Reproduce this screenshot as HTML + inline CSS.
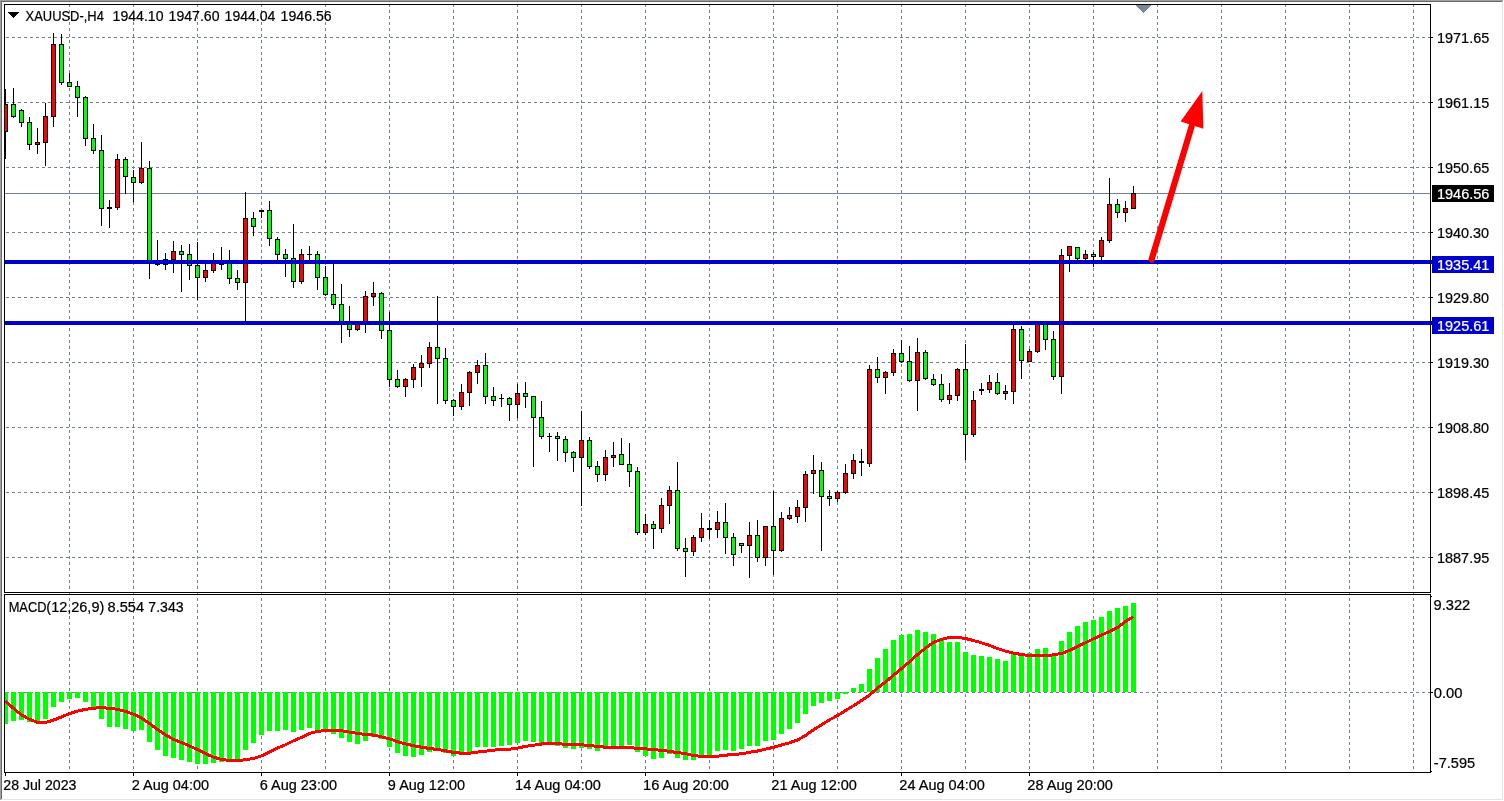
<!DOCTYPE html>
<html lang="en"><head><meta charset="utf-8"><title>XAUUSD-,H4</title>
<style>
html,body{margin:0;padding:0;background:#fff;width:1504px;height:801px;overflow:hidden}
svg{display:block;position:absolute;left:0;top:0}
text{font-family:"Liberation Sans",Arial,sans-serif;font-size:14px;fill:#000;stroke:#000;stroke-width:0.22px}
.w{fill:#fff;stroke:#fff}
</style></head><body>
<svg width="1504" height="801" viewBox="0 0 1504 801" shape-rendering="crispEdges">
<defs><clipPath id="cp"><rect x="5" y="5" width="1425" height="767"/></clipPath></defs>
<rect x="0" y="0" width="1504" height="801" fill="#fff"/>
<rect x="0" y="0" width="1503" height="1" fill="#a0a0a0"/><rect x="0" y="0" width="1" height="800" fill="#a0a0a0"/><rect x="1" y="1" width="1501" height="1" fill="#696969"/><rect x="1" y="1" width="1" height="798" fill="#696969"/><rect x="1" y="799" width="1502" height="1" fill="#e3e3e3"/><rect x="1502" y="1" width="1" height="799" fill="#e3e3e3"/>
<g stroke="#708090" stroke-width="1" stroke-dasharray="3 3" fill="none">
<line x1="69.5" y1="4" x2="69.5" y2="772"/><line x1="133.5" y1="4" x2="133.5" y2="772"/><line x1="197.5" y1="4" x2="197.5" y2="772"/><line x1="261.5" y1="4" x2="261.5" y2="772"/><line x1="325.5" y1="4" x2="325.5" y2="772"/><line x1="389.5" y1="4" x2="389.5" y2="772"/><line x1="453.5" y1="4" x2="453.5" y2="772"/><line x1="517.5" y1="4" x2="517.5" y2="772"/><line x1="581.5" y1="4" x2="581.5" y2="772"/><line x1="645.5" y1="4" x2="645.5" y2="772"/><line x1="709.5" y1="4" x2="709.5" y2="772"/><line x1="773.5" y1="4" x2="773.5" y2="772"/><line x1="837.5" y1="4" x2="837.5" y2="772"/><line x1="901.5" y1="4" x2="901.5" y2="772"/><line x1="965.5" y1="4" x2="965.5" y2="772"/><line x1="1029.5" y1="4" x2="1029.5" y2="772"/><line x1="1093.5" y1="4" x2="1093.5" y2="772"/><line x1="1157.5" y1="4" x2="1157.5" y2="772"/><line x1="1221.5" y1="4" x2="1221.5" y2="772"/><line x1="1285.5" y1="4" x2="1285.5" y2="772"/><line x1="1349.5" y1="4" x2="1349.5" y2="772"/><line x1="1413.5" y1="4" x2="1413.5" y2="772"/>
<line x1="6" y1="37.5" x2="1430" y2="37.5"/><line x1="6" y1="102.5" x2="1430" y2="102.5"/><line x1="6" y1="167.5" x2="1430" y2="167.5"/><line x1="6" y1="232.5" x2="1430" y2="232.5"/><line x1="6" y1="297.5" x2="1430" y2="297.5"/><line x1="6" y1="362.5" x2="1430" y2="362.5"/><line x1="6" y1="427.5" x2="1430" y2="427.5"/><line x1="6" y1="492.5" x2="1430" y2="492.5"/><line x1="6" y1="557.5" x2="1430" y2="557.5"/><line x1="6" y1="692.5" x2="1430" y2="692.5"/>
</g>
<rect x="5" y="193" width="1425" height="1" fill="#708090"/>
<g clip-path="url(#cp)">
<rect x="5" y="89" width="1" height="70" fill="#000"/><rect x="3" y="104" width="5" height="28" fill="#000"/><rect x="4" y="105" width="3" height="26" fill="#f00"/>
<rect x="13" y="88" width="1" height="30" fill="#000"/><rect x="11" y="104" width="5" height="13" fill="#000"/><rect x="12" y="105" width="3" height="11" fill="#0f0"/>
<rect x="21" y="109" width="1" height="18" fill="#000"/><rect x="19" y="110" width="5" height="13" fill="#000"/><rect x="20" y="111" width="3" height="11" fill="#0f0"/>
<rect x="29" y="117" width="1" height="33" fill="#000"/><rect x="27" y="122" width="5" height="23" fill="#000"/><rect x="28" y="123" width="3" height="21" fill="#0f0"/>
<rect x="37" y="128" width="1" height="26" fill="#000"/><rect x="35" y="142" width="5" height="3" fill="#000"/><rect x="36" y="143" width="3" height="1" fill="#f00"/>
<rect x="45" y="103" width="1" height="63" fill="#000"/><rect x="43" y="116" width="5" height="27" fill="#000"/><rect x="44" y="117" width="3" height="25" fill="#f00"/>
<rect x="53" y="33" width="1" height="94" fill="#000"/><rect x="51" y="44" width="5" height="73" fill="#000"/><rect x="52" y="45" width="3" height="71" fill="#f00"/>
<rect x="61" y="34" width="1" height="51" fill="#000"/><rect x="59" y="44" width="5" height="39" fill="#000"/><rect x="60" y="45" width="3" height="37" fill="#0f0"/>
<rect x="69" y="73" width="1" height="14" fill="#000"/><rect x="67" y="82" width="5" height="5" fill="#000"/><rect x="68" y="83" width="3" height="3" fill="#0f0"/>
<rect x="77" y="81" width="1" height="36" fill="#000"/><rect x="75" y="86" width="5" height="12" fill="#000"/><rect x="76" y="87" width="3" height="10" fill="#0f0"/>
<rect x="85" y="96" width="1" height="50" fill="#000"/><rect x="83" y="97" width="5" height="42" fill="#000"/><rect x="84" y="98" width="3" height="40" fill="#0f0"/>
<rect x="93" y="124" width="1" height="30" fill="#000"/><rect x="91" y="138" width="5" height="13" fill="#000"/><rect x="92" y="139" width="3" height="11" fill="#0f0"/>
<rect x="101" y="135" width="1" height="91" fill="#000"/><rect x="99" y="150" width="5" height="59" fill="#000"/><rect x="100" y="151" width="3" height="57" fill="#0f0"/>
<rect x="109" y="200" width="1" height="28" fill="#000"/><rect x="107" y="207" width="5" height="2" fill="#000"/>
<rect x="117" y="154" width="1" height="56" fill="#000"/><rect x="115" y="159" width="5" height="49" fill="#000"/><rect x="116" y="160" width="3" height="47" fill="#f00"/>
<rect x="125" y="157" width="1" height="37" fill="#000"/><rect x="123" y="159" width="5" height="18" fill="#000"/><rect x="124" y="160" width="3" height="16" fill="#0f0"/>
<rect x="133" y="170" width="1" height="32" fill="#000"/><rect x="131" y="177" width="5" height="6" fill="#000"/><rect x="132" y="178" width="3" height="4" fill="#0f0"/>
<rect x="141" y="142" width="1" height="42" fill="#000"/><rect x="139" y="168" width="5" height="15" fill="#000"/><rect x="140" y="169" width="3" height="13" fill="#f00"/>
<rect x="149" y="161" width="1" height="118" fill="#000"/><rect x="147" y="168" width="5" height="96" fill="#000"/><rect x="148" y="169" width="3" height="94" fill="#0f0"/>
<rect x="157" y="240" width="1" height="26" fill="#000"/><rect x="155" y="263" width="5" height="2" fill="#000"/>
<rect x="165" y="253" width="1" height="17" fill="#000"/><rect x="163" y="259" width="5" height="6" fill="#000"/><rect x="164" y="260" width="3" height="4" fill="#f00"/>
<rect x="173" y="241" width="1" height="32" fill="#000"/><rect x="171" y="251" width="5" height="9" fill="#000"/><rect x="172" y="252" width="3" height="7" fill="#f00"/>
<rect x="181" y="245" width="1" height="47" fill="#000"/><rect x="179" y="251" width="5" height="4" fill="#000"/><rect x="180" y="252" width="3" height="2" fill="#0f0"/>
<rect x="189" y="244" width="1" height="36" fill="#000"/><rect x="187" y="254" width="5" height="12" fill="#000"/><rect x="188" y="255" width="3" height="10" fill="#0f0"/>
<rect x="197" y="242" width="1" height="58" fill="#000"/><rect x="195" y="265" width="5" height="13" fill="#000"/><rect x="196" y="266" width="3" height="11" fill="#0f0"/>
<rect x="205" y="262" width="1" height="20" fill="#000"/><rect x="203" y="270" width="5" height="8" fill="#000"/><rect x="204" y="271" width="3" height="6" fill="#f00"/>
<rect x="213" y="253" width="1" height="20" fill="#000"/><rect x="211" y="262" width="5" height="9" fill="#000"/><rect x="212" y="263" width="3" height="7" fill="#f00"/>
<rect x="221" y="247" width="1" height="23" fill="#000"/><rect x="219" y="263" width="5" height="2" fill="#000"/>
<rect x="229" y="250" width="1" height="34" fill="#000"/><rect x="227" y="263" width="5" height="16" fill="#000"/><rect x="228" y="264" width="3" height="14" fill="#0f0"/>
<rect x="237" y="270" width="1" height="20" fill="#000"/><rect x="235" y="278" width="5" height="5" fill="#000"/><rect x="236" y="279" width="3" height="3" fill="#0f0"/>
<rect x="245" y="192" width="1" height="130" fill="#000"/><rect x="243" y="218" width="5" height="65" fill="#000"/><rect x="244" y="219" width="3" height="63" fill="#f00"/>
<rect x="253" y="212" width="1" height="24" fill="#000"/><rect x="251" y="218" width="5" height="9" fill="#000"/><rect x="252" y="219" width="3" height="7" fill="#0f0"/>
<rect x="261" y="210" width="1" height="8" fill="#000"/><rect x="259" y="210" width="5" height="2" fill="#000"/>
<rect x="269" y="201" width="1" height="45" fill="#000"/><rect x="267" y="210" width="5" height="29" fill="#000"/><rect x="268" y="211" width="3" height="27" fill="#0f0"/>
<rect x="277" y="237" width="1" height="25" fill="#000"/><rect x="275" y="239" width="5" height="16" fill="#000"/><rect x="276" y="240" width="3" height="14" fill="#0f0"/>
<rect x="285" y="249" width="1" height="28" fill="#000"/><rect x="283" y="254" width="5" height="5" fill="#000"/><rect x="284" y="255" width="3" height="3" fill="#0f0"/>
<rect x="293" y="224" width="1" height="64" fill="#000"/><rect x="291" y="258" width="5" height="24" fill="#000"/><rect x="292" y="259" width="3" height="22" fill="#0f0"/>
<rect x="301" y="249" width="1" height="35" fill="#000"/><rect x="299" y="254" width="5" height="28" fill="#000"/><rect x="300" y="255" width="3" height="26" fill="#f00"/>
<rect x="309" y="246" width="1" height="16" fill="#000"/><rect x="307" y="254" width="5" height="1" fill="#000"/>
<rect x="317" y="251" width="1" height="39" fill="#000"/><rect x="315" y="254" width="5" height="24" fill="#000"/><rect x="316" y="255" width="3" height="22" fill="#0f0"/>
<rect x="325" y="266" width="1" height="30" fill="#000"/><rect x="323" y="277" width="5" height="18" fill="#000"/><rect x="324" y="278" width="3" height="16" fill="#0f0"/>
<rect x="333" y="261" width="1" height="48" fill="#000"/><rect x="331" y="294" width="5" height="11" fill="#000"/><rect x="332" y="295" width="3" height="9" fill="#0f0"/>
<rect x="341" y="284" width="1" height="59" fill="#000"/><rect x="339" y="304" width="5" height="19" fill="#000"/><rect x="340" y="305" width="3" height="17" fill="#0f0"/>
<rect x="349" y="306" width="1" height="31" fill="#000"/><rect x="347" y="322" width="5" height="8" fill="#000"/><rect x="348" y="323" width="3" height="6" fill="#0f0"/>
<rect x="357" y="322" width="1" height="9" fill="#000"/><rect x="355" y="322" width="5" height="8" fill="#000"/><rect x="356" y="323" width="3" height="6" fill="#f00"/>
<rect x="365" y="291" width="1" height="42" fill="#000"/><rect x="363" y="296" width="5" height="27" fill="#000"/><rect x="364" y="297" width="3" height="25" fill="#f00"/>
<rect x="373" y="282" width="1" height="24" fill="#000"/><rect x="371" y="293" width="5" height="4" fill="#000"/><rect x="372" y="294" width="3" height="2" fill="#f00"/>
<rect x="381" y="292" width="1" height="47" fill="#000"/><rect x="379" y="293" width="5" height="38" fill="#000"/><rect x="380" y="294" width="3" height="36" fill="#0f0"/>
<rect x="389" y="312" width="1" height="75" fill="#000"/><rect x="387" y="330" width="5" height="50" fill="#000"/><rect x="388" y="331" width="3" height="48" fill="#0f0"/>
<rect x="397" y="370" width="1" height="18" fill="#000"/><rect x="395" y="379" width="5" height="8" fill="#000"/><rect x="396" y="380" width="3" height="6" fill="#0f0"/>
<rect x="405" y="378" width="1" height="19" fill="#000"/><rect x="403" y="379" width="5" height="8" fill="#000"/><rect x="404" y="380" width="3" height="6" fill="#f00"/>
<rect x="413" y="364" width="1" height="24" fill="#000"/><rect x="411" y="367" width="5" height="13" fill="#000"/><rect x="412" y="368" width="3" height="11" fill="#f00"/>
<rect x="421" y="355" width="1" height="32" fill="#000"/><rect x="419" y="363" width="5" height="5" fill="#000"/><rect x="420" y="364" width="3" height="3" fill="#f00"/>
<rect x="429" y="342" width="1" height="26" fill="#000"/><rect x="427" y="347" width="5" height="17" fill="#000"/><rect x="428" y="348" width="3" height="15" fill="#f00"/>
<rect x="437" y="296" width="1" height="108" fill="#000"/><rect x="435" y="347" width="5" height="12" fill="#000"/><rect x="436" y="348" width="3" height="10" fill="#0f0"/>
<rect x="445" y="348" width="1" height="56" fill="#000"/><rect x="443" y="358" width="5" height="43" fill="#000"/><rect x="444" y="359" width="3" height="41" fill="#0f0"/>
<rect x="453" y="399" width="1" height="17" fill="#000"/><rect x="451" y="400" width="5" height="7" fill="#000"/><rect x="452" y="401" width="3" height="5" fill="#0f0"/>
<rect x="461" y="384" width="1" height="26" fill="#000"/><rect x="459" y="392" width="5" height="15" fill="#000"/><rect x="460" y="393" width="3" height="13" fill="#f00"/>
<rect x="469" y="371" width="1" height="35" fill="#000"/><rect x="467" y="372" width="5" height="21" fill="#000"/><rect x="468" y="373" width="3" height="19" fill="#f00"/>
<rect x="477" y="360" width="1" height="24" fill="#000"/><rect x="475" y="365" width="5" height="8" fill="#000"/><rect x="476" y="366" width="3" height="6" fill="#f00"/>
<rect x="485" y="353" width="1" height="51" fill="#000"/><rect x="483" y="365" width="5" height="32" fill="#000"/><rect x="484" y="366" width="3" height="30" fill="#0f0"/>
<rect x="493" y="387" width="1" height="19" fill="#000"/><rect x="491" y="396" width="5" height="5" fill="#000"/><rect x="492" y="397" width="3" height="3" fill="#0f0"/>
<rect x="501" y="394" width="1" height="13" fill="#000"/><rect x="499" y="398" width="5" height="1" fill="#000"/>
<rect x="509" y="397" width="1" height="24" fill="#000"/><rect x="507" y="398" width="5" height="7" fill="#000"/><rect x="508" y="399" width="3" height="5" fill="#0f0"/>
<rect x="517" y="384" width="1" height="34" fill="#000"/><rect x="515" y="393" width="5" height="12" fill="#000"/><rect x="516" y="394" width="3" height="10" fill="#f00"/>
<rect x="525" y="382" width="1" height="26" fill="#000"/><rect x="523" y="393" width="5" height="4" fill="#000"/><rect x="524" y="394" width="3" height="2" fill="#0f0"/>
<rect x="533" y="396" width="1" height="71" fill="#000"/><rect x="531" y="396" width="5" height="22" fill="#000"/><rect x="532" y="397" width="3" height="20" fill="#0f0"/>
<rect x="541" y="401" width="1" height="38" fill="#000"/><rect x="539" y="417" width="5" height="20" fill="#000"/><rect x="540" y="418" width="3" height="18" fill="#0f0"/>
<rect x="549" y="433" width="1" height="19" fill="#000"/><rect x="547" y="436" width="5" height="1" fill="#000"/>
<rect x="557" y="432" width="1" height="29" fill="#000"/><rect x="555" y="436" width="5" height="3" fill="#000"/><rect x="556" y="437" width="3" height="1" fill="#0f0"/>
<rect x="565" y="436" width="1" height="26" fill="#000"/><rect x="563" y="439" width="5" height="14" fill="#000"/><rect x="564" y="440" width="3" height="12" fill="#0f0"/>
<rect x="573" y="451" width="1" height="21" fill="#000"/><rect x="571" y="452" width="5" height="6" fill="#000"/><rect x="572" y="453" width="3" height="4" fill="#0f0"/>
<rect x="581" y="411" width="1" height="95" fill="#000"/><rect x="579" y="440" width="5" height="18" fill="#000"/><rect x="580" y="441" width="3" height="16" fill="#f00"/>
<rect x="589" y="437" width="1" height="32" fill="#000"/><rect x="587" y="440" width="5" height="27" fill="#000"/><rect x="588" y="441" width="3" height="25" fill="#0f0"/>
<rect x="597" y="461" width="1" height="21" fill="#000"/><rect x="595" y="466" width="5" height="9" fill="#000"/><rect x="596" y="467" width="3" height="7" fill="#0f0"/>
<rect x="605" y="450" width="1" height="31" fill="#000"/><rect x="603" y="457" width="5" height="18" fill="#000"/><rect x="604" y="458" width="3" height="16" fill="#f00"/>
<rect x="613" y="442" width="1" height="25" fill="#000"/><rect x="611" y="455" width="5" height="3" fill="#000"/><rect x="612" y="456" width="3" height="1" fill="#f00"/>
<rect x="621" y="438" width="1" height="27" fill="#000"/><rect x="619" y="454" width="5" height="11" fill="#000"/><rect x="620" y="455" width="3" height="9" fill="#0f0"/>
<rect x="629" y="443" width="1" height="44" fill="#000"/><rect x="627" y="464" width="5" height="8" fill="#000"/><rect x="628" y="465" width="3" height="6" fill="#0f0"/>
<rect x="637" y="467" width="1" height="68" fill="#000"/><rect x="635" y="471" width="5" height="62" fill="#000"/><rect x="636" y="472" width="3" height="60" fill="#0f0"/>
<rect x="645" y="514" width="1" height="21" fill="#000"/><rect x="643" y="524" width="5" height="9" fill="#000"/><rect x="644" y="525" width="3" height="7" fill="#f00"/>
<rect x="653" y="521" width="1" height="28" fill="#000"/><rect x="651" y="524" width="5" height="5" fill="#000"/><rect x="652" y="525" width="3" height="3" fill="#0f0"/>
<rect x="661" y="498" width="1" height="35" fill="#000"/><rect x="659" y="505" width="5" height="24" fill="#000"/><rect x="660" y="506" width="3" height="22" fill="#f00"/>
<rect x="669" y="486" width="1" height="38" fill="#000"/><rect x="667" y="490" width="5" height="16" fill="#000"/><rect x="668" y="491" width="3" height="14" fill="#f00"/>
<rect x="677" y="462" width="1" height="89" fill="#000"/><rect x="675" y="490" width="5" height="59" fill="#000"/><rect x="676" y="491" width="3" height="57" fill="#0f0"/>
<rect x="685" y="538" width="1" height="39" fill="#000"/><rect x="683" y="548" width="5" height="4" fill="#000"/><rect x="684" y="549" width="3" height="2" fill="#0f0"/>
<rect x="693" y="535" width="1" height="21" fill="#000"/><rect x="691" y="537" width="5" height="15" fill="#000"/><rect x="692" y="538" width="3" height="13" fill="#f00"/>
<rect x="701" y="513" width="1" height="29" fill="#000"/><rect x="699" y="528" width="5" height="10" fill="#000"/><rect x="700" y="529" width="3" height="8" fill="#f00"/>
<rect x="709" y="520" width="1" height="19" fill="#000"/><rect x="707" y="528" width="5" height="2" fill="#000"/>
<rect x="717" y="511" width="1" height="27" fill="#000"/><rect x="715" y="522" width="5" height="8" fill="#000"/><rect x="716" y="523" width="3" height="6" fill="#f00"/>
<rect x="725" y="503" width="1" height="51" fill="#000"/><rect x="723" y="522" width="5" height="16" fill="#000"/><rect x="724" y="523" width="3" height="14" fill="#0f0"/>
<rect x="733" y="533" width="1" height="33" fill="#000"/><rect x="731" y="537" width="5" height="18" fill="#000"/><rect x="732" y="538" width="3" height="16" fill="#0f0"/>
<rect x="741" y="543" width="1" height="10" fill="#000"/><rect x="739" y="543" width="5" height="3" fill="#000"/><rect x="740" y="544" width="3" height="1" fill="#0f0"/>
<rect x="749" y="522" width="1" height="56" fill="#000"/><rect x="747" y="535" width="5" height="11" fill="#000"/><rect x="748" y="536" width="3" height="9" fill="#f00"/>
<rect x="757" y="520" width="1" height="42" fill="#000"/><rect x="755" y="535" width="5" height="23" fill="#000"/><rect x="756" y="536" width="3" height="21" fill="#0f0"/>
<rect x="765" y="526" width="1" height="40" fill="#000"/><rect x="763" y="526" width="5" height="32" fill="#000"/><rect x="764" y="527" width="3" height="30" fill="#f00"/>
<rect x="773" y="491" width="1" height="84" fill="#000"/><rect x="771" y="526" width="5" height="25" fill="#000"/><rect x="772" y="527" width="3" height="23" fill="#0f0"/>
<rect x="781" y="512" width="1" height="40" fill="#000"/><rect x="779" y="518" width="5" height="33" fill="#000"/><rect x="780" y="519" width="3" height="31" fill="#f00"/>
<rect x="789" y="507" width="1" height="13" fill="#000"/><rect x="787" y="515" width="5" height="4" fill="#000"/><rect x="788" y="516" width="3" height="2" fill="#f00"/>
<rect x="797" y="500" width="1" height="23" fill="#000"/><rect x="795" y="507" width="5" height="10" fill="#000"/><rect x="796" y="508" width="3" height="8" fill="#f00"/>
<rect x="805" y="471" width="1" height="51" fill="#000"/><rect x="803" y="474" width="5" height="34" fill="#000"/><rect x="804" y="475" width="3" height="32" fill="#f00"/>
<rect x="813" y="455" width="1" height="39" fill="#000"/><rect x="811" y="470" width="5" height="4" fill="#000"/><rect x="812" y="471" width="3" height="2" fill="#f00"/>
<rect x="821" y="462" width="1" height="89" fill="#000"/><rect x="819" y="470" width="5" height="27" fill="#000"/><rect x="820" y="471" width="3" height="25" fill="#0f0"/>
<rect x="829" y="490" width="1" height="16" fill="#000"/><rect x="827" y="496" width="5" height="3" fill="#000"/><rect x="828" y="497" width="3" height="1" fill="#0f0"/>
<rect x="837" y="491" width="1" height="11" fill="#000"/><rect x="835" y="492" width="5" height="7" fill="#000"/><rect x="836" y="493" width="3" height="5" fill="#f00"/>
<rect x="845" y="464" width="1" height="30" fill="#000"/><rect x="843" y="473" width="5" height="20" fill="#000"/><rect x="844" y="474" width="3" height="18" fill="#f00"/>
<rect x="853" y="454" width="1" height="25" fill="#000"/><rect x="851" y="460" width="5" height="14" fill="#000"/><rect x="852" y="461" width="3" height="12" fill="#f00"/>
<rect x="861" y="449" width="1" height="27" fill="#000"/><rect x="859" y="461" width="5" height="2" fill="#000"/>
<rect x="869" y="365" width="1" height="102" fill="#000"/><rect x="867" y="369" width="5" height="95" fill="#000"/><rect x="868" y="370" width="3" height="93" fill="#f00"/>
<rect x="877" y="357" width="1" height="26" fill="#000"/><rect x="875" y="369" width="5" height="9" fill="#000"/><rect x="876" y="370" width="3" height="7" fill="#0f0"/>
<rect x="885" y="371" width="1" height="23" fill="#000"/><rect x="883" y="372" width="5" height="6" fill="#000"/><rect x="884" y="373" width="3" height="4" fill="#f00"/>
<rect x="893" y="349" width="1" height="27" fill="#000"/><rect x="891" y="353" width="5" height="20" fill="#000"/><rect x="892" y="354" width="3" height="18" fill="#f00"/>
<rect x="901" y="340" width="1" height="23" fill="#000"/><rect x="899" y="353" width="5" height="9" fill="#000"/><rect x="900" y="354" width="3" height="7" fill="#0f0"/>
<rect x="909" y="346" width="1" height="36" fill="#000"/><rect x="907" y="361" width="5" height="20" fill="#000"/><rect x="908" y="362" width="3" height="18" fill="#0f0"/>
<rect x="917" y="338" width="1" height="73" fill="#000"/><rect x="915" y="352" width="5" height="29" fill="#000"/><rect x="916" y="353" width="3" height="27" fill="#f00"/>
<rect x="925" y="350" width="1" height="30" fill="#000"/><rect x="923" y="352" width="5" height="27" fill="#000"/><rect x="924" y="353" width="3" height="25" fill="#0f0"/>
<rect x="933" y="374" width="1" height="12" fill="#000"/><rect x="931" y="379" width="5" height="6" fill="#000"/><rect x="932" y="380" width="3" height="4" fill="#0f0"/>
<rect x="941" y="374" width="1" height="28" fill="#000"/><rect x="939" y="384" width="5" height="16" fill="#000"/><rect x="940" y="385" width="3" height="14" fill="#0f0"/>
<rect x="949" y="383" width="1" height="21" fill="#000"/><rect x="947" y="395" width="5" height="5" fill="#000"/><rect x="948" y="396" width="3" height="3" fill="#f00"/>
<rect x="957" y="368" width="1" height="33" fill="#000"/><rect x="955" y="369" width="5" height="27" fill="#000"/><rect x="956" y="370" width="3" height="25" fill="#f00"/>
<rect x="965" y="344" width="1" height="116" fill="#000"/><rect x="963" y="369" width="5" height="66" fill="#000"/><rect x="964" y="370" width="3" height="64" fill="#0f0"/>
<rect x="973" y="391" width="1" height="46" fill="#000"/><rect x="971" y="400" width="5" height="35" fill="#000"/><rect x="972" y="401" width="3" height="33" fill="#f00"/>
<rect x="981" y="383" width="1" height="12" fill="#000"/><rect x="979" y="389" width="5" height="2" fill="#000"/>
<rect x="989" y="375" width="1" height="18" fill="#000"/><rect x="987" y="382" width="5" height="8" fill="#000"/><rect x="988" y="383" width="3" height="6" fill="#f00"/>
<rect x="997" y="373" width="1" height="22" fill="#000"/><rect x="995" y="382" width="5" height="12" fill="#000"/><rect x="996" y="383" width="3" height="10" fill="#0f0"/>
<rect x="1005" y="385" width="1" height="15" fill="#000"/><rect x="1003" y="391" width="5" height="3" fill="#000"/><rect x="1004" y="392" width="3" height="1" fill="#f00"/>
<rect x="1013" y="323" width="1" height="81" fill="#000"/><rect x="1011" y="329" width="5" height="63" fill="#000"/><rect x="1012" y="330" width="3" height="61" fill="#f00"/>
<rect x="1021" y="326" width="1" height="53" fill="#000"/><rect x="1019" y="329" width="5" height="32" fill="#000"/><rect x="1020" y="330" width="3" height="30" fill="#0f0"/>
<rect x="1029" y="349" width="1" height="13" fill="#000"/><rect x="1027" y="351" width="5" height="11" fill="#000"/><rect x="1028" y="352" width="3" height="9" fill="#f00"/>
<rect x="1037" y="322" width="1" height="31" fill="#000"/><rect x="1035" y="322" width="5" height="30" fill="#000"/><rect x="1036" y="323" width="3" height="28" fill="#f00"/>
<rect x="1045" y="322" width="1" height="28" fill="#000"/><rect x="1043" y="322" width="5" height="18" fill="#000"/><rect x="1044" y="323" width="3" height="16" fill="#0f0"/>
<rect x="1053" y="331" width="1" height="49" fill="#000"/><rect x="1051" y="339" width="5" height="38" fill="#000"/><rect x="1052" y="340" width="3" height="36" fill="#0f0"/>
<rect x="1061" y="249" width="1" height="145" fill="#000"/><rect x="1059" y="255" width="5" height="122" fill="#000"/><rect x="1060" y="256" width="3" height="120" fill="#f00"/>
<rect x="1069" y="246" width="1" height="26" fill="#000"/><rect x="1067" y="246" width="5" height="10" fill="#000"/><rect x="1068" y="247" width="3" height="8" fill="#f00"/>
<rect x="1077" y="247" width="1" height="15" fill="#000"/><rect x="1075" y="247" width="5" height="12" fill="#000"/><rect x="1076" y="248" width="3" height="10" fill="#0f0"/>
<rect x="1085" y="250" width="1" height="12" fill="#000"/><rect x="1083" y="254" width="5" height="5" fill="#000"/><rect x="1084" y="255" width="3" height="3" fill="#f00"/>
<rect x="1093" y="252" width="1" height="15" fill="#000"/><rect x="1091" y="254" width="5" height="3" fill="#000"/><rect x="1092" y="255" width="3" height="1" fill="#0f0"/>
<rect x="1101" y="237" width="1" height="25" fill="#000"/><rect x="1099" y="240" width="5" height="17" fill="#000"/><rect x="1100" y="241" width="3" height="15" fill="#f00"/>
<rect x="1109" y="178" width="1" height="65" fill="#000"/><rect x="1107" y="204" width="5" height="37" fill="#000"/><rect x="1108" y="205" width="3" height="35" fill="#f00"/>
<rect x="1117" y="199" width="1" height="19" fill="#000"/><rect x="1115" y="204" width="5" height="9" fill="#000"/><rect x="1116" y="205" width="3" height="7" fill="#0f0"/>
<rect x="1125" y="201" width="1" height="21" fill="#000"/><rect x="1123" y="208" width="5" height="5" fill="#000"/><rect x="1124" y="209" width="3" height="3" fill="#f00"/>
<rect x="1133" y="186" width="1" height="23" fill="#000"/><rect x="1131" y="193" width="5" height="16" fill="#000"/><rect x="1132" y="194" width="3" height="14" fill="#f00"/>
<rect x="3" y="692" width="5" height="32" fill="#0f0"/><rect x="11" y="692" width="5" height="29" fill="#0f0"/><rect x="19" y="692" width="5" height="28" fill="#0f0"/><rect x="27" y="692" width="5" height="30" fill="#0f0"/><rect x="35" y="692" width="5" height="31" fill="#0f0"/><rect x="43" y="692" width="5" height="27" fill="#0f0"/><rect x="51" y="692" width="5" height="15" fill="#0f0"/><rect x="59" y="692" width="5" height="10" fill="#0f0"/><rect x="67" y="692" width="5" height="7" fill="#0f0"/><rect x="75" y="692" width="5" height="6" fill="#0f0"/><rect x="83" y="692" width="5" height="10" fill="#0f0"/><rect x="91" y="692" width="5" height="17" fill="#0f0"/><rect x="99" y="692" width="5" height="27" fill="#0f0"/><rect x="107" y="692" width="5" height="35" fill="#0f0"/><rect x="115" y="692" width="5" height="35" fill="#0f0"/><rect x="123" y="692" width="5" height="37" fill="#0f0"/><rect x="131" y="692" width="5" height="39" fill="#0f0"/><rect x="139" y="692" width="5" height="38" fill="#0f0"/><rect x="147" y="692" width="5" height="50" fill="#0f0"/><rect x="155" y="692" width="5" height="58" fill="#0f0"/><rect x="163" y="692" width="5" height="64" fill="#0f0"/><rect x="171" y="692" width="5" height="66" fill="#0f0"/><rect x="179" y="692" width="5" height="68" fill="#0f0"/><rect x="187" y="692" width="5" height="70" fill="#0f0"/><rect x="195" y="692" width="5" height="72" fill="#0f0"/><rect x="203" y="692" width="5" height="72" fill="#0f0"/><rect x="211" y="692" width="5" height="71" fill="#0f0"/><rect x="219" y="692" width="5" height="70" fill="#0f0"/><rect x="227" y="692" width="5" height="69" fill="#0f0"/><rect x="235" y="692" width="5" height="67" fill="#0f0"/><rect x="243" y="692" width="5" height="58" fill="#0f0"/><rect x="251" y="692" width="5" height="51" fill="#0f0"/><rect x="259" y="692" width="5" height="43" fill="#0f0"/><rect x="267" y="692" width="5" height="39" fill="#0f0"/><rect x="275" y="692" width="5" height="39" fill="#0f0"/><rect x="283" y="692" width="5" height="38" fill="#0f0"/><rect x="291" y="692" width="5" height="40" fill="#0f0"/><rect x="299" y="692" width="5" height="38" fill="#0f0"/><rect x="307" y="692" width="5" height="36" fill="#0f0"/><rect x="315" y="692" width="5" height="38" fill="#0f0"/><rect x="323" y="692" width="5" height="40" fill="#0f0"/><rect x="331" y="692" width="5" height="42" fill="#0f0"/><rect x="339" y="692" width="5" height="46" fill="#0f0"/><rect x="347" y="692" width="5" height="50" fill="#0f0"/><rect x="355" y="692" width="5" height="52" fill="#0f0"/><rect x="363" y="692" width="5" height="49" fill="#0f0"/><rect x="371" y="692" width="5" height="45" fill="#0f0"/><rect x="379" y="692" width="5" height="47" fill="#0f0"/><rect x="387" y="692" width="5" height="55" fill="#0f0"/><rect x="395" y="692" width="5" height="61" fill="#0f0"/><rect x="403" y="692" width="5" height="64" fill="#0f0"/><rect x="411" y="692" width="5" height="65" fill="#0f0"/><rect x="419" y="692" width="5" height="63" fill="#0f0"/><rect x="427" y="692" width="5" height="60" fill="#0f0"/><rect x="435" y="692" width="5" height="59" fill="#0f0"/><rect x="443" y="692" width="5" height="61" fill="#0f0"/><rect x="451" y="692" width="5" height="64" fill="#0f0"/><rect x="459" y="692" width="5" height="63" fill="#0f0"/><rect x="467" y="692" width="5" height="61" fill="#0f0"/><rect x="475" y="692" width="5" height="55" fill="#0f0"/><rect x="483" y="692" width="5" height="55" fill="#0f0"/><rect x="491" y="692" width="5" height="55" fill="#0f0"/><rect x="499" y="692" width="5" height="54" fill="#0f0"/><rect x="507" y="692" width="5" height="53" fill="#0f0"/><rect x="515" y="692" width="5" height="51" fill="#0f0"/><rect x="523" y="692" width="5" height="49" fill="#0f0"/><rect x="531" y="692" width="5" height="50" fill="#0f0"/><rect x="539" y="692" width="5" height="52" fill="#0f0"/><rect x="547" y="692" width="5" height="53" fill="#0f0"/><rect x="555" y="692" width="5" height="54" fill="#0f0"/><rect x="563" y="692" width="5" height="56" fill="#0f0"/><rect x="571" y="692" width="5" height="57" fill="#0f0"/><rect x="579" y="692" width="5" height="56" fill="#0f0"/><rect x="587" y="692" width="5" height="57" fill="#0f0"/><rect x="595" y="692" width="5" height="59" fill="#0f0"/><rect x="603" y="692" width="5" height="57" fill="#0f0"/><rect x="611" y="692" width="5" height="57" fill="#0f0"/><rect x="619" y="692" width="5" height="57" fill="#0f0"/><rect x="627" y="692" width="5" height="53" fill="#0f0"/><rect x="635" y="692" width="5" height="60" fill="#0f0"/><rect x="643" y="692" width="5" height="64" fill="#0f0"/><rect x="651" y="692" width="5" height="67" fill="#0f0"/><rect x="659" y="692" width="5" height="66" fill="#0f0"/><rect x="667" y="692" width="5" height="62" fill="#0f0"/><rect x="675" y="692" width="5" height="66" fill="#0f0"/><rect x="683" y="692" width="5" height="68" fill="#0f0"/><rect x="691" y="692" width="5" height="68" fill="#0f0"/><rect x="699" y="692" width="5" height="66" fill="#0f0"/><rect x="707" y="692" width="5" height="63" fill="#0f0"/><rect x="715" y="692" width="5" height="59" fill="#0f0"/><rect x="723" y="692" width="5" height="58" fill="#0f0"/><rect x="731" y="692" width="5" height="59" fill="#0f0"/><rect x="739" y="692" width="5" height="57" fill="#0f0"/><rect x="747" y="692" width="5" height="54" fill="#0f0"/><rect x="755" y="692" width="5" height="54" fill="#0f0"/><rect x="763" y="692" width="5" height="49" fill="#0f0"/><rect x="771" y="692" width="5" height="48" fill="#0f0"/><rect x="779" y="692" width="5" height="42" fill="#0f0"/><rect x="787" y="692" width="5" height="37" fill="#0f0"/><rect x="795" y="692" width="5" height="31" fill="#0f0"/><rect x="803" y="692" width="5" height="22" fill="#0f0"/><rect x="811" y="692" width="5" height="14" fill="#0f0"/><rect x="819" y="692" width="5" height="11" fill="#0f0"/><rect x="827" y="692" width="5" height="9" fill="#0f0"/><rect x="835" y="692" width="5" height="7" fill="#0f0"/><rect x="843" y="692" width="5" height="2" fill="#0f0"/><rect x="851" y="688" width="5" height="4" fill="#0f0"/><rect x="859" y="684" width="5" height="8" fill="#0f0"/><rect x="867" y="669" width="5" height="23" fill="#0f0"/><rect x="875" y="658" width="5" height="34" fill="#0f0"/><rect x="883" y="649" width="5" height="43" fill="#0f0"/><rect x="891" y="640" width="5" height="52" fill="#0f0"/><rect x="899" y="635" width="5" height="57" fill="#0f0"/><rect x="907" y="634" width="5" height="58" fill="#0f0"/><rect x="915" y="630" width="5" height="62" fill="#0f0"/><rect x="923" y="632" width="5" height="60" fill="#0f0"/><rect x="931" y="634" width="5" height="58" fill="#0f0"/><rect x="939" y="638" width="5" height="54" fill="#0f0"/><rect x="947" y="642" width="5" height="50" fill="#0f0"/><rect x="955" y="642" width="5" height="50" fill="#0f0"/><rect x="963" y="652" width="5" height="40" fill="#0f0"/><rect x="971" y="655" width="5" height="37" fill="#0f0"/><rect x="979" y="656" width="5" height="36" fill="#0f0"/><rect x="987" y="657" width="5" height="35" fill="#0f0"/><rect x="995" y="659" width="5" height="33" fill="#0f0"/><rect x="1003" y="661" width="5" height="31" fill="#0f0"/><rect x="1011" y="653" width="5" height="39" fill="#0f0"/><rect x="1019" y="654" width="5" height="38" fill="#0f0"/><rect x="1027" y="653" width="5" height="39" fill="#0f0"/><rect x="1035" y="649" width="5" height="43" fill="#0f0"/><rect x="1043" y="648" width="5" height="44" fill="#0f0"/><rect x="1051" y="654" width="5" height="38" fill="#0f0"/><rect x="1059" y="641" width="5" height="51" fill="#0f0"/><rect x="1067" y="632" width="5" height="60" fill="#0f0"/><rect x="1075" y="626" width="5" height="66" fill="#0f0"/><rect x="1083" y="622" width="5" height="70" fill="#0f0"/><rect x="1091" y="620" width="5" height="72" fill="#0f0"/><rect x="1099" y="617" width="5" height="75" fill="#0f0"/><rect x="1107" y="611" width="5" height="81" fill="#0f0"/><rect x="1115" y="608" width="5" height="84" fill="#0f0"/><rect x="1123" y="606" width="5" height="86" fill="#0f0"/><rect x="1131" y="603" width="5" height="89" fill="#0f0"/>
<polyline points="5.5,701.4 13.5,708.3 21.5,715.0 29.5,719.3 37.5,722.4 45.5,722.4 53.5,720.1 61.5,716.9 69.5,713.6 77.5,711.1 85.5,709.4 93.5,708.2 101.5,707.6 109.5,708.3 117.5,709.4 125.5,711.4 133.5,714.1 141.5,718.1 149.5,723.4 157.5,729.4 165.5,734.8 173.5,739.5 181.5,742.6 189.5,745.9 197.5,749.5 205.5,753.5 213.5,757.2 221.5,759.5 229.5,760.4 237.5,760.4 245.5,759.8 253.5,758.4 261.5,755.9 269.5,752.1 277.5,748.1 285.5,744.8 293.5,740.8 301.5,737.4 309.5,733.4 317.5,731.4 325.5,730.5 333.5,730.5 341.5,730.8 349.5,732.1 357.5,733.4 365.5,734.4 373.5,735.1 381.5,736.8 389.5,738.8 397.5,741.7 405.5,743.9 413.5,745.7 421.5,747.2 429.5,748.5 437.5,749.5 445.5,750.8 453.5,752.4 461.5,753.2 469.5,753.2 477.5,752.1 485.5,751.2 493.5,750.1 501.5,749.5 509.5,749.2 517.5,748.1 525.5,746.4 533.5,745.2 541.5,744.0 549.5,743.2 557.5,743.5 565.5,744.4 573.5,744.8 581.5,744.8 589.5,745.5 597.5,746.4 605.5,747.2 613.5,747.2 621.5,747.2 629.5,747.5 637.5,748.4 645.5,748.8 653.5,749.9 661.5,750.1 669.5,751.5 677.5,752.5 685.5,753.7 693.5,755.5 701.5,756.4 709.5,756.4 717.5,756.2 725.5,755.2 733.5,754.4 741.5,753.8 749.5,752.3 757.5,751.0 765.5,749.2 773.5,747.3 781.5,745.0 789.5,742.8 797.5,740.0 805.5,735.4 813.5,729.9 821.5,724.8 829.5,719.8 837.5,715.6 845.5,710.6 853.5,705.7 861.5,700.6 869.5,695.0 877.5,688.1 885.5,682.0 893.5,675.2 901.5,668.6 909.5,661.8 917.5,654.5 925.5,648.1 933.5,642.4 941.5,639.4 949.5,637.4 957.5,637.4 965.5,638.5 973.5,640.5 981.5,642.8 989.5,645.4 997.5,648.5 1005.5,651.2 1013.5,653.2 1021.5,654.5 1029.5,655.7 1037.5,655.7 1045.5,655.7 1053.5,654.8 1061.5,653.5 1069.5,650.5 1077.5,646.4 1085.5,642.8 1093.5,638.8 1101.5,635.1 1109.5,631.4 1117.5,627.4 1125.5,621.4 1133.5,616.7" fill="none" stroke="#f00" stroke-width="3" stroke-linejoin="round"/>
</g>
<rect x="5" y="260" width="1427" height="4" fill="#0000cd"/><rect x="5" y="321" width="1427" height="4" fill="#0000cd"/>
<g shape-rendering="geometricPrecision"><line x1="1151.6" y1="259.5" x2="1191.8" y2="125.8" stroke="#f00" stroke-width="6.2" stroke-linecap="round"/><polygon points="1202.3,90.9 1180.6,121.4 1203.4,128.7" fill="#f00"/></g>
<g fill="#000"><rect x="4" y="4" width="1427" height="1"/><rect x="4" y="592" width="1427" height="1"/><rect x="4" y="594" width="1427" height="1"/><rect x="4" y="772" width="1427" height="1"/><rect x="4" y="4" width="1" height="589"/><rect x="4" y="594" width="1" height="179"/><rect x="1430" y="4" width="1" height="589"/><rect x="1430" y="594" width="1" height="179"/><rect x="1431" y="37" width="2" height="1"/><rect x="1431" y="102" width="2" height="1"/><rect x="1431" y="167" width="2" height="1"/><rect x="1431" y="232" width="2" height="1"/><rect x="1431" y="297" width="2" height="1"/><rect x="1431" y="362" width="2" height="1"/><rect x="1431" y="427" width="2" height="1"/><rect x="1431" y="492" width="2" height="1"/><rect x="1431" y="557" width="2" height="1"/><rect x="1431" y="692" width="2" height="1"/><rect x="1431" y="596" width="1" height="1"/><rect x="1431" y="771" width="1" height="1"/><rect x="5" y="773" width="1" height="3"/><rect x="133" y="773" width="1" height="3"/><rect x="261" y="773" width="1" height="3"/><rect x="389" y="773" width="1" height="3"/><rect x="517" y="773" width="1" height="3"/><rect x="645" y="773" width="1" height="3"/><rect x="773" y="773" width="1" height="3"/><rect x="901" y="773" width="1" height="3"/><rect x="1029" y="773" width="1" height="3"/></g>
<rect x="8" y="12" width="11" height="1" fill="#000"/><rect x="9" y="13" width="9" height="1" fill="#000"/><rect x="10" y="14" width="7" height="1" fill="#000"/><rect x="11" y="15" width="5" height="1" fill="#000"/><rect x="12" y="16" width="3" height="1" fill="#000"/><rect x="13" y="17" width="1" height="1" fill="#000"/><rect x="1136" y="5" width="15" height="1" fill="#708090"/><rect x="1137" y="5" width="13" height="1" fill="#778899"/><rect x="1137" y="6" width="13" height="1" fill="#708090"/><rect x="1138" y="6" width="11" height="1" fill="#778899"/><rect x="1138" y="7" width="11" height="1" fill="#708090"/><rect x="1139" y="7" width="9" height="1" fill="#778899"/><rect x="1139" y="8" width="9" height="1" fill="#708090"/><rect x="1140" y="8" width="7" height="1" fill="#778899"/><rect x="1140" y="9" width="7" height="1" fill="#708090"/><rect x="1141" y="9" width="5" height="1" fill="#778899"/><rect x="1141" y="10" width="5" height="1" fill="#708090"/><rect x="1142" y="10" width="3" height="1" fill="#778899"/><rect x="1142" y="11" width="3" height="1" fill="#708090"/><rect x="1143" y="11" width="1" height="1" fill="#778899"/><rect x="1143" y="12" width="1" height="1" fill="#708090"/>
<rect x="1432" y="185" width="62" height="17" fill="#000"/><rect x="1432" y="256" width="62" height="17" fill="#0000cd"/><rect x="1432" y="317" width="62" height="17" fill="#0000cd"/>
<g shape-rendering="geometricPrecision">
<text x="25.62" y="21" textLength="78.24" lengthAdjust="spacingAndGlyphs">XAUUSD-,H4</text><text x="112.59" y="21" textLength="50.91" lengthAdjust="spacingAndGlyphs">1944.10</text><text x="168.59" y="21" textLength="50.91" lengthAdjust="spacingAndGlyphs">1947.60</text><text x="224.60" y="21" textLength="50.81" lengthAdjust="spacingAndGlyphs">1944.04</text><text x="280.59" y="21" textLength="51.02" lengthAdjust="spacingAndGlyphs">1946.56</text>
<text x="8.69" y="612" textLength="37.78" lengthAdjust="spacingAndGlyphs">MACD</text><text x="46.37" y="612" textLength="57.89" lengthAdjust="spacingAndGlyphs">(12,26,9)</text><text x="107.58" y="612" textLength="36.48" lengthAdjust="spacingAndGlyphs">8.554</text><text x="148.29" y="612" textLength="35.34" lengthAdjust="spacingAndGlyphs">7.343</text>
<text x="1436.97" y="43" textLength="52.26" lengthAdjust="spacingAndGlyphs">1971.65</text><text x="1436.97" y="108" textLength="52.26" lengthAdjust="spacingAndGlyphs">1961.15</text><text x="1436.97" y="173" textLength="52.26" lengthAdjust="spacingAndGlyphs">1950.65</text><text x="1436.97" y="238" textLength="52.15" lengthAdjust="spacingAndGlyphs">1940.30</text><text x="1436.97" y="303" textLength="52.15" lengthAdjust="spacingAndGlyphs">1929.80</text><text x="1436.97" y="368" textLength="52.15" lengthAdjust="spacingAndGlyphs">1919.30</text><text x="1436.97" y="433" textLength="52.15" lengthAdjust="spacingAndGlyphs">1908.80</text><text x="1436.97" y="498" textLength="52.26" lengthAdjust="spacingAndGlyphs">1898.45</text><text x="1436.97" y="563" textLength="52.26" lengthAdjust="spacingAndGlyphs">1887.95</text>
<text x="1436.96" y="199" textLength="52.46" lengthAdjust="spacingAndGlyphs" class="w">1946.56</text><text x="1436.96" y="270" textLength="52.46" lengthAdjust="spacingAndGlyphs" class="w">1935.41</text><text x="1436.96" y="331" textLength="52.46" lengthAdjust="spacingAndGlyphs" class="w">1925.61</text>
<text x="1433.57" y="610" textLength="36.70" lengthAdjust="spacingAndGlyphs">9.322</text><text x="1433.67" y="698" textLength="28.80" lengthAdjust="spacingAndGlyphs">0.00</text><text x="1433.88" y="768" textLength="41.24" lengthAdjust="spacingAndGlyphs">-7.595</text>
<text x="3.29" y="790" textLength="73.10" lengthAdjust="spacingAndGlyphs">28 Jul 2023</text><text x="131.78" y="790" textLength="77.28" lengthAdjust="spacingAndGlyphs">2 Aug 04:00</text><text x="259.78" y="790" textLength="77.28" lengthAdjust="spacingAndGlyphs">6 Aug 23:00</text><text x="387.88" y="790" textLength="77.17" lengthAdjust="spacingAndGlyphs">9 Aug 12:00</text><text x="515.06" y="790" textLength="85.88" lengthAdjust="spacingAndGlyphs">14 Aug 04:00</text><text x="643.06" y="790" textLength="85.88" lengthAdjust="spacingAndGlyphs">16 Aug 20:00</text><text x="771.37" y="790" textLength="85.57" lengthAdjust="spacingAndGlyphs">21 Aug 12:00</text><text x="899.37" y="790" textLength="85.57" lengthAdjust="spacingAndGlyphs">24 Aug 04:00</text><text x="1027.37" y="790" textLength="85.57" lengthAdjust="spacingAndGlyphs">28 Aug 20:00</text>
</g>
</svg>
</body></html>
